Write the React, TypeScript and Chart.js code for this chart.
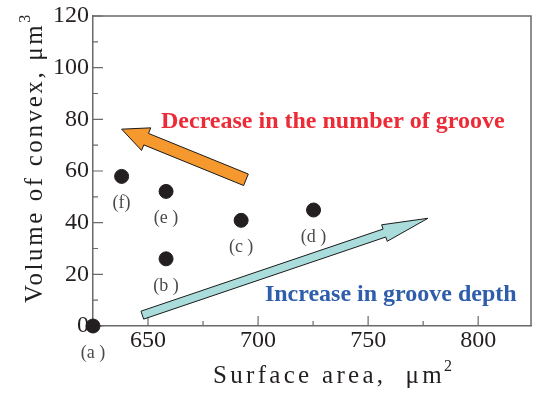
import React, { useEffect, useRef } from "react";
import { Chart, registerables } from "chart.js";

Chart.register(...registerables);

// ---- data ----
const sampleLabels = ["(a )", "(b )", "(c )", "(d )", "(e )", "(f)"];
const surfaceArea = [625, 658.2, 692.3, 725.2, 658.2, 638.0];
const convexVolume = [0, 26.0, 40.9, 44.9, 52.1, 57.9];

const xMin = 625;
const xMax = 824;
const yMin = 0;
const yMax = 120;
const xMajorTicks = [650, 700, 750, 800];
const xMinorTicks = [675, 725, 775];
const yMajorTicks = [0, 20, 40, 60, 80, 100, 120];
const yMinorTicks = [10, 30, 50, 70, 90, 110];

const xTitle = "Surface area,  \u03bcm";
const xTitleSup = "2";
const yTitle = "Volume of convex, \u03bcm";
const yTitleSup = "3";

// annotation arrows (data coordinates: tail -> tip)
const arrowTails = [
  [694.5, 56.6],
  [647.4, 4.2],
];
const arrowTips = [
  [638.0, 76.2],
  [777.2, 41.7],
];
const arrowColors = ["#F5982E", "#A9DCDB"];

const noteTexts = ["Decrease in the number of groove", "Increase in groove depth"];
const notePositions = [
  [655.9, 79.0],
  [703.1, 11.9],
];
const noteColors = ["#EC2B36", "#2E5DAB"];

const SERIF = '"Liberation Serif", "Times New Roman", serif';
const AXIS_COLOR = "#6a6a6a";
const TEXT_COLOR = "#231F20";

function drawArrow(ctx, tx, ty, hx, hy, sh, hh, hl, fill) {
  const dx = hx - tx;
  const dy = hy - ty;
  const len = Math.sqrt(dx * dx + dy * dy);
  const ux = dx / len;
  const uy = dy / len;
  const nx = -uy;
  const ny = ux;
  const bx = hx - ux * hl;
  const by = hy - uy * hl;
  ctx.save();
  ctx.beginPath();
  ctx.moveTo(tx + nx * sh, ty + ny * sh);
  ctx.lineTo(bx + nx * sh, by + ny * sh);
  ctx.lineTo(bx + nx * hh, by + ny * hh);
  ctx.lineTo(hx, hy);
  ctx.lineTo(bx - nx * hh, by - ny * hh);
  ctx.lineTo(bx - nx * sh, by - ny * sh);
  ctx.lineTo(tx - nx * sh, ty - ny * sh);
  ctx.closePath();
  ctx.fillStyle = fill;
  ctx.fill();
  ctx.lineWidth = 1;
  ctx.strokeStyle = "#1a1a1a";
  ctx.lineJoin = "miter";
  ctx.stroke();
  ctx.restore();
}

const decorPlugin = {
  id: "decor",
  beforeDatasetsDraw(chart) {
    const { ctx, chartArea, scales } = chart;
    const xs = scales.x;
    const ys = scales.y;
    ctx.save();
    // frame top & right
    ctx.strokeStyle = AXIS_COLOR;
    ctx.lineWidth = 1.5;
    ctx.beginPath();
    ctx.moveTo(chartArea.left, chartArea.top);
    ctx.lineTo(chartArea.right, chartArea.top);
    ctx.lineTo(chartArea.right, chartArea.bottom);
    ctx.stroke();
    // inward ticks
    ctx.lineWidth = 1.2;
    ctx.beginPath();
    yMajorTicks.forEach((v) => {
      const y = ys.getPixelForValue(v);
      ctx.moveTo(chartArea.left, y);
      ctx.lineTo(chartArea.left + 10, y);
    });
    yMinorTicks.forEach((v) => {
      const y = ys.getPixelForValue(v);
      ctx.moveTo(chartArea.left, y);
      ctx.lineTo(chartArea.left + 5, y);
    });
    xMajorTicks.forEach((v) => {
      const x = xs.getPixelForValue(v);
      ctx.moveTo(x, chartArea.bottom);
      ctx.lineTo(x, chartArea.bottom - 10);
    });
    xMinorTicks.forEach((v) => {
      const x = xs.getPixelForValue(v);
      ctx.moveTo(x, chartArea.bottom);
      ctx.lineTo(x, chartArea.bottom - 5);
    });
    ctx.stroke();
    ctx.restore();

    // arrows
    const arrowStyles = [
      { sh: 6.2, hh: 12.2, hl: 26.5 },
      { sh: 4.2, hh: 8.7, hl: 46 },
    ];
    arrowTails.forEach((t, i) => {
      const h = arrowTips[i];
      const s = arrowStyles[i];
      drawArrow(
        ctx,
        xs.getPixelForValue(t[0]),
        ys.getPixelForValue(t[1]),
        xs.getPixelForValue(h[0]),
        ys.getPixelForValue(h[1]),
        s.sh,
        s.hh,
        s.hl,
        arrowColors[i]
      );
    });
  },
  afterDatasetsDraw(chart) {
    const { ctx, scales } = chart;
    const xs = scales.x;
    const ys = scales.y;
    ctx.save();
    // point labels
    ctx.font = "18px " + SERIF;
    ctx.fillStyle = "#4a4a4a";
    ctx.textAlign = "center";
    ctx.textBaseline = "middle";
    sampleLabels.forEach((lab, i) => {
      const x = xs.getPixelForValue(surfaceArea[i]);
      const y = ys.getPixelForValue(convexVolume[i]);
      ctx.fillText(lab, x, y + 27);
    });
    // notes
    ctx.font = "bold 24px " + SERIF;
    ctx.textAlign = "left";
    noteTexts.forEach((t, i) => {
      ctx.fillStyle = noteColors[i];
      ctx.fillText(t, xs.getPixelForValue(notePositions[i][0]), ys.getPixelForValue(notePositions[i][1]));
    });

    // axis titles
    ctx.fillStyle = TEXT_COLOR;
    ctx.textBaseline = "alphabetic";
    ctx.font = "25px " + SERIF;
    (ctx as any).letterSpacing = "3.3px";
    ctx.textAlign = "left";
    const xStart = 213;
    const xBase = 383;
    ctx.fillText(xTitle, xStart, xBase);
    const xw = ctx.measureText(xTitle).width;
    (ctx as any).letterSpacing = "0px";
    ctx.font = "16px " + SERIF;
    ctx.fillText(xTitleSup, xStart + xw - 1, xBase - 12);

    ctx.save();
    ctx.translate(42, 303);
    ctx.rotate(-Math.PI / 2);
    ctx.font = "25px " + SERIF;
    (ctx as any).letterSpacing = "2.6px";
    ctx.fillText(yTitle, 0, 0);
    const yw = ctx.measureText(yTitle).width;
    (ctx as any).letterSpacing = "0px";
    ctx.font = "16px " + SERIF;
    ctx.fillText(yTitleSup, yw, -12);
    ctx.restore();

    ctx.restore();
  },
};

export default function App() {
  const canvasRef = useRef<HTMLCanvasElement | null>(null);

  useEffect(() => {
    const canvas = canvasRef.current;
    if (!canvas) return;
    const chart = new Chart(canvas, {
      type: "scatter",
      data: {
        labels: sampleLabels,
        datasets: [
          {
            label: "samples",
            data: surfaceArea.map((x, i) => ({ x, y: convexVolume[i] })),
            backgroundColor: "#231F20",
            borderColor: "#231F20",
            pointRadius: 7,
            pointHoverRadius: 7,
            clip: false,
          },
        ],
      },
      options: {
        responsive: false,
        animation: false,
        events: [],
        layout: { padding: { top: 13, right: 3, left: 0, bottom: 0 } },
        plugins: {
          legend: { display: false },
          tooltip: { enabled: false },
          title: { display: false },
        },
        scales: {
          x: {
            type: "linear",
            min: xMin,
            max: xMax,
            afterBuildTicks: (scale) => {
              scale.ticks = xMajorTicks.map((v) => ({ value: v }));
            },
            afterFit: (scale) => {
              scale.height = 68;
            },
            grid: { display: false, drawTicks: false },
            border: { display: true, color: AXIS_COLOR, width: 1.5 },
            ticks: {
              color: TEXT_COLOR,
              font: { family: SERIF, size: 24, lineHeight: 1 },
              padding: 3,
              maxRotation: 0,
              autoSkip: false,
            },
          },
          y: {
            type: "linear",
            min: yMin,
            max: yMax,
            afterBuildTicks: (scale) => {
              scale.ticks = yMajorTicks.map((v) => ({ value: v }));
            },
            afterFit: (scale) => {
              scale.width = 93;
            },
            grid: { display: false, drawTicks: false },
            border: { display: true, color: AXIS_COLOR, width: 1.5 },
            ticks: {
              color: TEXT_COLOR,
              font: { family: SERIF, size: 24, lineHeight: 1 },
              padding: 4,
              autoSkip: false,
            },
          },
        },
      },
      plugins: [decorPlugin],
    });
    return () => chart.destroy();
  }, []);

  return (
    <canvas
      ref={canvasRef}
      width={539}
      height={394}
      style={{ position: "fixed", left: 0, top: 0, width: 539, height: 394, background: "#fff" }}
    />
  );
}
